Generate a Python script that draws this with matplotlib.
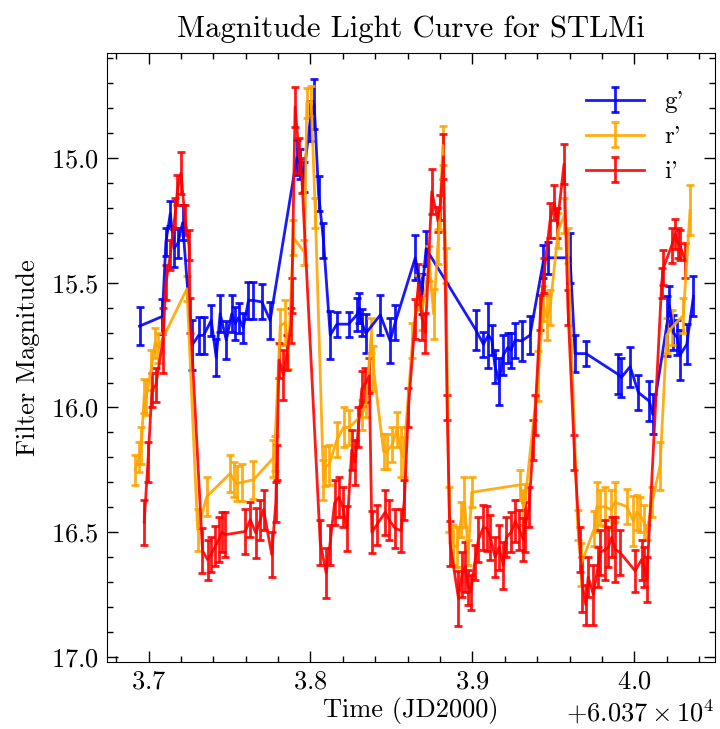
import numpy as np
import matplotlib
matplotlib.use('Agg')
import matplotlib.pyplot as plt
from matplotlib.ticker import MultipleLocator, AutoMinorLocator

plt.rcParams['font.family'] = ['cmr10', 'DejaVu Serif']
plt.rcParams['mathtext.fontset'] = 'cm'
plt.rcParams['axes.formatter.use_mathtext'] = True

# time offset (JD2000)
jd0 = 60370.0

# g' filter
g_time = [3.6944, 3.7085, 3.7107, 3.7134, 3.7158, 3.7181, 3.7210, 3.7268, 3.7309, 3.7340,
          3.7387, 3.7418, 3.7442, 3.7480, 3.7514, 3.7535, 3.7556, 3.7585, 3.7617, 3.7648,
          3.7700, 3.7751, 3.7916, 3.7936, 3.7957, 3.7998, 3.8023, 3.8050, 3.8080, 3.8122,
          3.8163, 3.8235, 3.8286, 3.8300, 3.8318, 3.8342, 3.8431, 3.8492, 3.8523, 3.8647,
          3.8688, 3.8714, 3.9020, 3.9068, 3.9099, 3.9120, 3.9140, 3.9165, 3.9191, 3.9218,
          3.9238, 3.9264, 3.9305, 3.9356, 3.9438, 3.9465, 3.9603, 3.9634, 3.9702, 3.9897,
          3.9920, 3.9974, 4.0025, 4.0093, 4.0114, 4.0200, 4.0217, 4.0241, 4.0265, 4.0282,
          4.0324, 4.0365]
g_mag = [15.674, 15.635, 15.337, 15.223, 15.361, 15.342, 15.260, 15.751, 15.711, 15.711,
         15.651, 15.800, 15.624, 15.730, 15.624, 15.664, 15.640, 15.680, 15.571, 15.571,
         15.577, 15.651, 14.997, 15.024, 15.077, 14.850, 14.784, 15.144, 15.330, 15.710,
         15.666, 15.666, 15.629, 15.600, 15.660, 15.703, 15.629, 15.733, 15.660, 15.400,
         15.544, 15.364, 15.688, 15.747, 15.710, 15.730, 15.836, 15.895, 15.790, 15.760,
         15.770, 15.730, 15.733, 15.710, 15.415, 15.400, 15.400, 15.784, 15.784, 15.866,
         15.880, 15.836, 15.940, 15.975, 16.028, 15.674, 15.592, 15.700, 15.720, 15.790,
         15.747, 15.555]
g_err = [0.077, 0.07, 0.055, 0.05, 0.077, 0.06, 0.07, 0.1, 0.073, 0.073,
         0.063, 0.075, 0.073, 0.077, 0.073, 0.067, 0.06, 0.06, 0.073, 0.073,
         0.07, 0.073, 0.07, 0.06, 0.06, 0.08, 0.1, 0.07, 0.07, 0.095,
         0.05, 0.05, 0.066, 0.06, 0.055, 0.078, 0.08, 0.09, 0.07, 0.09,
         0.08, 0.07, 0.08, 0.05, 0.13, 0.06, 0.065, 0.095, 0.08, 0.06,
         0.07, 0.07, 0.08, 0.075, 0.065, 0.065, 0.1, 0.075, 0.05, 0.08,
         0.08, 0.08, 0.07, 0.08, 0.08, 0.12, 0.08, 0.07, 0.07, 0.1,
         0.08, 0.08]

# r' filter
r_time = [3.6918, 3.6940, 3.6955, 3.6973, 3.6985, 3.7015, 3.7041, 3.7060, 3.7237, 3.7303,
          3.7360, 3.7504, 3.7525, 3.7545, 3.7576, 3.7648, 3.7768, 3.7778, 3.7813, 3.7843,
          3.7864, 3.7895, 3.7963, 3.7977, 3.8004, 3.8030, 3.8080, 3.8091, 3.8115, 3.8163,
          3.8204, 3.8240, 3.8317, 3.8344, 3.8375, 3.8389, 3.8451, 3.8471, 3.8505, 3.8533,
          3.8560, 3.8575, 3.8630, 3.8663, 3.8688, 3.8735, 3.8760, 3.8786, 3.8800, 3.8817,
          3.8836, 3.8856, 3.8880, 3.8903, 3.8930, 3.8951, 3.8975, 3.8996, 3.9294, 3.9315,
          3.9325, 3.9407, 3.9438, 3.9459, 3.9480, 3.9530, 3.9568, 3.9590, 3.9650, 3.9670,
          3.9753, 3.9767, 3.9790, 3.9819, 3.9856, 3.9880, 3.9953, 3.9994, 4.0015, 4.0035,
          4.0060, 4.0077, 4.0110, 4.0159, 4.0200, 4.0231, 4.0303, 4.0344]
r_mag = [16.25, 16.20, 16.153, 15.954, 15.96, 15.85, 15.74, 15.76, 15.524, 16.49,
         16.357, 16.264, 16.29, 16.304, 16.30, 16.29, 16.204, 16.183, 15.674, 15.66,
         15.777, 15.32, 15.378, 14.78, 14.773, 15.22, 16.29, 16.235, 16.23, 16.13,
         16.08, 16.08, 16.03, 15.98, 15.71, 15.843, 16.176, 16.176, 16.15, 16.087,
         16.18, 16.20, 15.733, 15.54, 15.62, 15.424, 15.624, 15.356, 15.22, 14.95,
         15.43, 16.41, 16.55, 16.56, 16.45, 16.38, 16.58, 16.34, 16.31, 16.40,
         16.375, 15.873, 15.585, 15.64, 15.60, 15.29, 15.23, 15.35, 16.47, 16.63,
         16.485, 16.40, 16.40, 16.397, 16.41, 16.38, 16.397, 16.456, 16.42, 16.43,
         16.46, 16.50, 16.38, 16.234, 15.71, 15.68, 15.63, 15.21]
r_err = [0.06, 0.06, 0.075, 0.07, 0.07, 0.08, 0.06, 0.06, 0.05, 0.085,
         0.08, 0.075, 0.07, 0.07, 0.075, 0.075, 0.075, 0.07, 0.07, 0.09,
         0.07, 0.07, 0.05, 0.06, 0.06, 0.06, 0.08, 0.08, 0.08, 0.07,
         0.08, 0.07, 0.06, 0.06, 0.07, 0.09, 0.07, 0.07, 0.07, 0.07,
         0.1, 0.08, 0.07, 0.07, 0.07, 0.07, 0.1, 0.07, 0.07, 0.08,
         0.07, 0.09, 0.08, 0.08, 0.07, 0.1, 0.05, 0.06, 0.06, 0.07,
         0.07, 0.1, 0.07, 0.09, 0.07, 0.07, 0.07, 0.07, 0.06, 0.085,
         0.07, 0.1, 0.07, 0.08, 0.08, 0.08, 0.07, 0.1, 0.07, 0.07,
         0.07, 0.03, 0.06, 0.095, 0.07, 0.07, 0.07, 0.1]

# i' filter
i_time = [3.6973, 3.6996, 3.7021, 3.7045, 3.7089, 3.7107, 3.7134, 3.7165, 3.7178, 3.7200,
          3.7226, 3.7250, 3.7257, 3.7333, 3.7364, 3.7387, 3.7412, 3.7433, 3.7453, 3.7473,
          3.7597, 3.7628, 3.7663, 3.7690, 3.7710, 3.7761, 3.7786, 3.7792, 3.7806, 3.7833,
          3.7855, 3.7880, 3.7885, 3.7905, 3.7930, 3.7946, 3.8060, 3.8097, 3.8120, 3.8149,
          3.8175, 3.8200, 3.8225, 3.8255, 3.8276, 3.8296, 3.8317, 3.8334, 3.8363, 3.8379,
          3.8410, 3.8461, 3.8485, 3.8523, 3.8560, 3.8580, 3.8605, 3.8647, 3.8667, 3.8688,
          3.8710, 3.8749, 3.8786, 3.8800, 3.8821, 3.8844, 3.8862, 3.8914, 3.8935, 3.8955,
          3.8975, 3.8990, 3.9015, 3.9037, 3.9068, 3.9089, 3.9110, 3.9140, 3.9165, 3.9191,
          3.9210, 3.9240, 3.9264, 3.9290, 3.9315, 3.9325, 3.9350, 3.9376, 3.9387, 3.9420,
          3.9440, 3.9480, 3.9506, 3.9525, 3.9566, 3.9590, 3.9630, 3.9665, 3.9679, 3.9700,
          3.9715, 3.9747, 3.9775, 3.9790, 3.9820, 3.9840, 3.9860, 3.9882, 3.9910, 4.0005,
          4.0045, 4.0060, 4.0077, 4.0169, 4.0180, 4.0231, 4.0252, 4.0268, 4.0282, 4.0313]
i_mag = [16.46, 16.22, 15.93, 15.91, 15.73, 15.50, 15.39, 15.22, 15.13, 15.06,
         15.25, 15.35, 15.63, 16.574, 16.61, 16.59, 16.557, 16.53, 16.50, 16.51,
         16.497, 16.45, 16.504, 16.45, 16.41, 16.59, 16.38, 16.22, 15.81, 15.87,
         15.78, 15.67, 15.55, 14.795, 14.99, 15.07, 16.54, 16.664, 16.55, 16.382,
         16.36, 16.40, 16.485, 16.17, 16.22, 16.08, 15.924, 15.91, 15.873, 16.50,
         16.47, 16.42, 16.45, 16.485, 16.493, 16.37, 16.00, 15.644, 15.504, 15.64,
         15.70, 15.135, 15.245, 15.20, 14.995, 16.00, 16.545, 16.766, 16.67, 16.64,
         16.72, 16.74, 16.62, 16.53, 16.48, 16.485, 16.52, 16.60, 16.56, 16.633,
         16.52, 16.50, 16.456, 16.49, 16.53, 16.478, 16.40, 16.13, 16.03, 15.62,
         15.47, 15.25, 15.18, 15.26, 15.024, 15.60, 16.18, 16.57, 16.71, 16.79,
         16.68, 16.75, 16.64, 16.58, 16.57, 16.56, 16.52, 16.57, 16.58, 16.655,
         16.61, 16.64, 16.69, 15.50, 15.44, 15.35, 15.305, 15.34, 15.35, 15.41]
i_err = [0.09, 0.08, 0.07, 0.07, 0.13, 0.07, 0.06, 0.06, 0.06, 0.085,
         0.06, 0.06, 0.07, 0.09, 0.08, 0.07, 0.08, 0.09, 0.08, 0.09,
         0.09, 0.07, 0.1, 0.08, 0.08, 0.09, 0.08, 0.07, 0.07, 0.1,
         0.07, 0.07, 0.07, 0.08, 0.07, 0.07, 0.09, 0.1, 0.08, 0.09,
         0.08, 0.08, 0.09, 0.08, 0.09, 0.08, 0.07, 0.07, 0.07, 0.085,
         0.08, 0.09, 0.08, 0.08, 0.085, 0.08, 0.08, 0.08, 0.08, 0.09,
         0.08, 0.09, 0.05, 0.05, 0.09, 0.05, 0.09, 0.11, 0.09, 0.1,
         0.07, 0.07, 0.07, 0.09, 0.09, 0.09, 0.09, 0.08, 0.09, 0.095,
         0.08, 0.08, 0.085, 0.08, 0.085, 0.1, 0.08, 0.08, 0.08, 0.07,
         0.07, 0.07, 0.07, 0.06, 0.08, 0.07, 0.07, 0.09, 0.11, 0.08,
         0.08, 0.12, 0.08, 0.09, 0.12, 0.08, 0.08, 0.13, 0.09, 0.085,
         0.08, 0.08, 0.09, 0.06, 0.07, 0.07, 0.06, 0.06, 0.06, 0.07]

filters = [("g'", g_time, g_mag, g_err, 'blue'),
           ("r'", r_time, r_mag, r_err, 'orange'),
           ("i'", i_time, i_mag, i_err, 'red')]

fig = plt.figure(figsize=(7.2, 7.29), dpi=100)
ax = fig.add_axes([0.149, 0.092, 0.844, 0.835])

for name, t, m, e, col in filters:
    ax.errorbar(jd0 + np.array(t), m, yerr=e, color=col, lw=2.0,
                elinewidth=2.0, capsize=3, capthick=2.0, label=name, alpha=0.9)

ax.set_xlim(jd0 + 3.6745, jd0 + 4.0498)
ax.set_ylim(17.02, 14.58)
ax.xaxis.set_major_locator(MultipleLocator(0.1))
ax.xaxis.set_minor_locator(AutoMinorLocator(5))
ax.yaxis.set_major_locator(MultipleLocator(0.5))
ax.yaxis.set_minor_locator(AutoMinorLocator(5))
ax.tick_params(which='both', direction='in', top=True, right=True, labelsize=19)
ax.tick_params(which='major', length=8, width=1, pad=6)
ax.tick_params(which='minor', length=4, width=1)
ax.xaxis.get_offset_text().set_fontsize(19)

ax.set_title('Magnitude Light Curve for STLMi', fontsize=22, pad=12)
ax.set_xlabel('Time (JD2000)', fontsize=19, labelpad=2)
ax.set_ylabel('Filter Magnitude', fontsize=19, labelpad=8)
ax.legend(loc='upper right', frameon=False, fontsize=18, handlelength=2.3,
          bbox_to_anchor=(0.985, 0.975))

fig.savefig('out.png', dpi=100)
